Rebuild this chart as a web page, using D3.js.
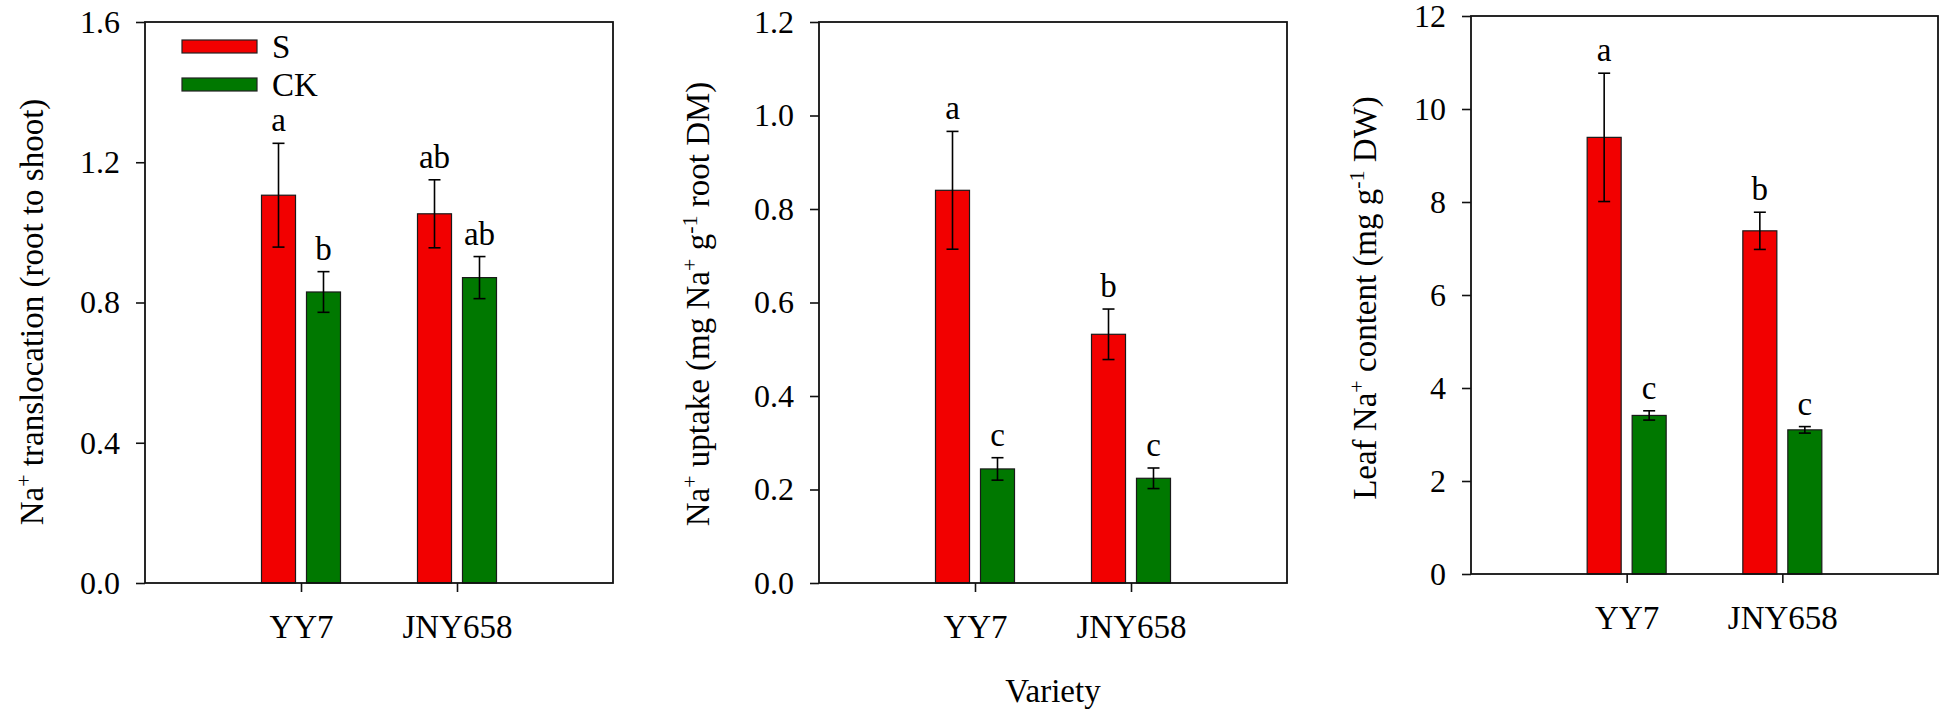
<!DOCTYPE html>
<html>
<head>
<meta charset="utf-8">
<script src="https://cdn.jsdelivr.net/npm/d3@7"></script>
<style>
  html, body { margin: 0; padding: 0; background: #fff; }
  svg { display: block; }
  text { font-family: "Liberation Serif", "Times New Roman", serif; fill: #000; }
</style>
</head>
<body>
<svg id="chart" width="1944" height="715"></svg>
<script>
// ---------------- data ----------------
const categories = ["YY7", "JNY658"];
const series = ["S", "CK"];
const seriesColors = ["#f20000", "#007800"];

// Panel 1: Na+ translocation (root to shoot)
const translocS = [1.106, 1.053];
const translocS_se = [0.148, 0.097];
const translocCK = [0.830, 0.871];
const translocCK_se = [0.058, 0.060];
const translocS_letters = ["a", "ab"];
const translocCK_letters = ["b", "ab"];
const translocTicks = [0, 0.4, 0.8, 1.2, 1.6];

// Panel 2: Na+ uptake
const uptakeS = [0.840, 0.532];
const uptakeS_se = [0.126, 0.054];
const uptakeCK = [0.244, 0.224];
const uptakeCK_se = [0.024, 0.022];
const uptakeS_letters = ["a", "b"];
const uptakeCK_letters = ["c", "c"];
const uptakeTicks = [0, 0.2, 0.4, 0.6, 0.8, 1.0, 1.2];

// Panel 3: Leaf Na+ content
const leafS = [9.39, 7.38];
const leafS_se = [1.38, 0.40];
const leafCK = [3.41, 3.10];
const leafCK_se = [0.10, 0.07];
const leafS_letters = ["a", "b"];
const leafCK_letters = ["c", "c"];
const leafTicks = [0, 2, 4, 6, 8, 10, 12];

const xTitle = "Variety";

// ---------------- drawing ----------------
const svg = d3.select("#chart");

const panels = [
  {
    box: {left: 145, right: 613, top: 22, bottom: 583},
    domain: [0, 1.6], ticks: translocTicks, fmt: d3.format(".1f"),
    S: translocS, Sse: translocS_se, CK: translocCK, CKse: translocCK_se,
    SL: translocS_letters, CKL: translocCK_letters,
    title: [["Na", 0], ["+", 1], [" translocation (root to shoot)", 0]],
    titleX: 31, titleY: 312
  },
  {
    box: {left: 819, right: 1287, top: 22, bottom: 583},
    domain: [0, 1.2], ticks: uptakeTicks, fmt: d3.format(".1f"),
    S: uptakeS, Sse: uptakeS_se, CK: uptakeCK, CKse: uptakeCK_se,
    SL: uptakeS_letters, CKL: uptakeCK_letters,
    title: [["Na", 0], ["+", 1], [" uptake (mg Na", 0], ["+", 1], [" g", 0], ["-1", 1], [" root DM)", 0]],
    titleX: 697, titleY: 304
  },
  {
    box: {left: 1471, right: 1938, top: 16, bottom: 574},
    domain: [0, 12], ticks: leafTicks, fmt: d3.format("d"),
    S: leafS, Sse: leafS_se, CK: leafCK, CKse: leafCK_se,
    SL: leafS_letters, CKL: leafCK_letters,
    title: [["Leaf Na", 0], ["+", 1], [" content (mg g", 0], ["-1", 1], [" DW)", 0]],
    titleX: 1364, titleY: 298
  }
];

panels.forEach((p, pi) => {
  const b = p.box;
  const W = b.right - b.left, H = b.bottom - b.top;
  const g = svg.append("g").attr("transform", `translate(${b.left},${b.top})`);

  const x = d3.scalePoint().domain(categories).range([0, W]).padding(1);
  const xs = d3.scaleBand().domain(series).range([-39.5, 39.5]).paddingInner(0.244);
  const y = d3.scaleLinear().domain(p.domain).range([H, 0]);

  const rows = [];
  categories.forEach((c, i) => {
    rows.push({cat: c, ser: "S", v: p.S[i], se: p.Sse[i], lab: p.SL[i], col: seriesColors[0]});
    rows.push({cat: c, ser: "CK", v: p.CK[i], se: p.CKse[i], lab: p.CKL[i], col: seriesColors[1]});
  });

  // bars
  g.selectAll("rect.bar").data(rows).join("rect")
    .attr("class", "bar")
    .attr("x", d => x(d.cat) + xs(d.ser))
    .attr("width", xs.bandwidth())
    .attr("y", d => y(d.v))
    .attr("height", d => H - y(d.v))
    .attr("fill", d => d.col)
    .attr("stroke", "#1a1a1a")
    .attr("stroke-width", 1.2);

  // error bars
  const cap = 6;
  const eb = g.selectAll("g.eb").data(rows).join("g").attr("class", "eb")
    .attr("transform", d => `translate(${x(d.cat) + xs(d.ser) + xs.bandwidth() / 2},0)`);
  eb.append("line").attr("x1", 0).attr("x2", 0)
    .attr("y1", d => y(d.v + d.se)).attr("y2", d => y(d.v - d.se));
  eb.append("line").attr("x1", -cap).attr("x2", cap)
    .attr("y1", d => y(d.v + d.se)).attr("y2", d => y(d.v + d.se));
  eb.append("line").attr("x1", -cap).attr("x2", cap)
    .attr("y1", d => y(d.v - d.se)).attr("y2", d => y(d.v - d.se));
  eb.selectAll("line").attr("stroke", "#000").attr("stroke-width", 1.6);

  // letters
  g.selectAll("text.letter").data(rows).join("text")
    .attr("class", "letter")
    .attr("x", d => x(d.cat) + xs(d.ser) + xs.bandwidth() / 2)
    .attr("y", d => y(d.v + d.se) - 12)
    .attr("text-anchor", "middle")
    .style("font-size", "33px")
    .text(d => d.lab);

  // frame
  g.append("rect").attr("x", 0).attr("y", 0).attr("width", W).attr("height", H)
    .attr("fill", "none").attr("stroke", "#111").attr("stroke-width", 1.8);

  // y axis
  const ya = g.append("g").call(
    d3.axisLeft(y).tickValues(p.ticks).tickFormat(p.fmt).tickSizeInner(9).tickSizeOuter(0).tickPadding(16)
  );
  ya.select(".domain").remove();
  ya.selectAll("line").attr("stroke", "#111").attr("stroke-width", 1.6);
  ya.selectAll("text").style("font-size", "32px").attr("fill", "#000");
  ya.attr("font-family", null).attr("font-size", null);

  // x axis
  const xa = g.append("g").attr("transform", `translate(0,${H})`).call(
    d3.axisBottom(x).tickSizeInner(9).tickSizeOuter(0).tickPadding(23)
  );
  xa.select(".domain").remove();
  xa.selectAll("line").attr("stroke", "#111").attr("stroke-width", 1.6);
  xa.selectAll("text").style("font-size", "33px").attr("fill", "#000");
  xa.attr("font-family", null).attr("font-size", null);

  // y title
  const t = svg.append("text")
    .attr("transform", `translate(${p.titleX},${p.titleY}) rotate(-90)`)
    .attr("text-anchor", "middle")
    .attr("dy", "0.35em")
    .style("font-size", "33px");
  p.title.forEach(([s, sup]) => {
    if (sup) {
      t.append("tspan").attr("baseline-shift", "super").style("font-size", "22px").text(s);
    } else {
      t.append("tspan").text(s);
    }
  });
});

// legend (panel 1)
const leg = svg.append("g").attr("transform", "translate(182,40)");
series.forEach((s, i) => {
  leg.append("rect").attr("x", 0).attr("y", i * 38).attr("width", 75).attr("height", 13)
    .attr("fill", seriesColors[i]).attr("stroke", "#222").attr("stroke-width", 1.2);
  leg.append("text").attr("x", 90).attr("y", i * 38 + 18).style("font-size", "33px").text(s);
});

// x title
svg.append("text").attr("x", (panels[1].box.left + panels[1].box.right) / 2).attr("y", 702)
  .attr("text-anchor", "middle").style("font-size", "33px").text(xTitle);
</script>
</body>
</html>
